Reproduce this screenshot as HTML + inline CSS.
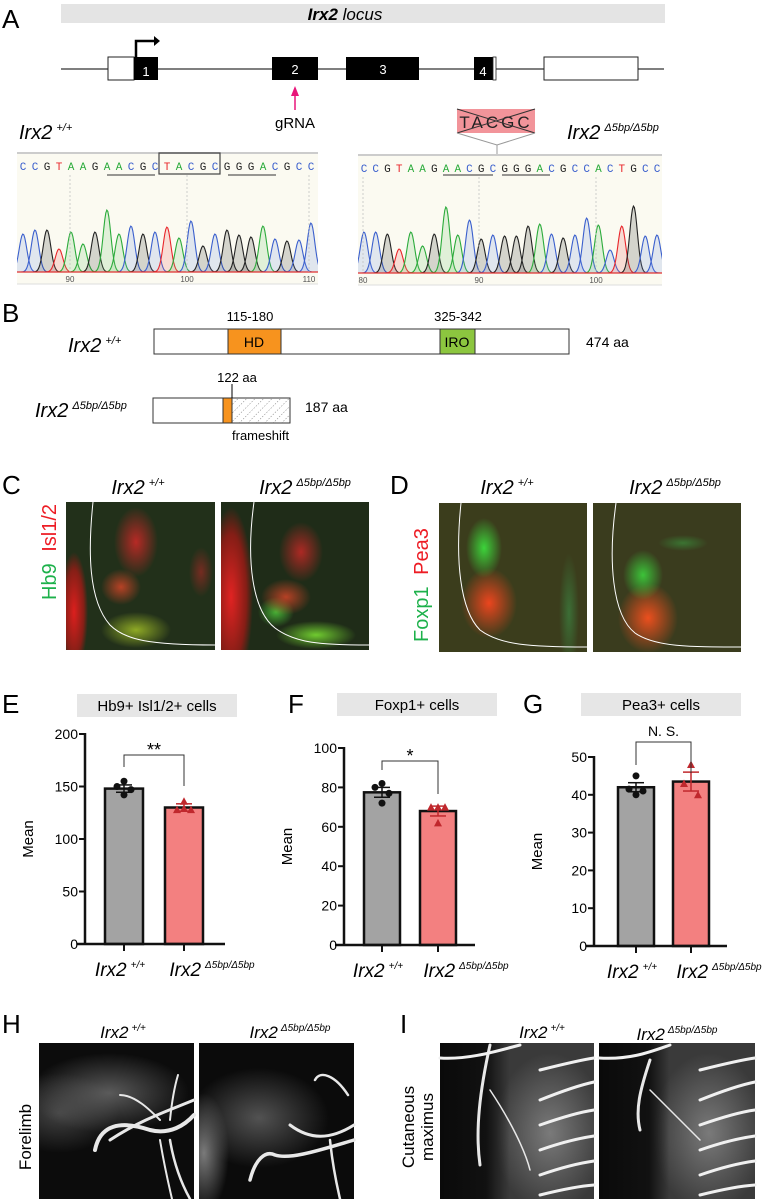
<!DOCTYPE html>
<html><head><meta charset="utf-8">
<style>
html,body{margin:0;padding:0;background:#fff;}
body{width:772px;height:1199px;position:relative;overflow:hidden;font-family:"Liberation Sans",sans-serif;}
.img{position:absolute;overflow:hidden;}
svg{position:absolute;left:0;top:0;}
</style></head>
<body>
<div class="img" style="left:66px;top:502px;width:149px;height:148px;background:
radial-gradient(ellipse 14px 60px at 8px 110px,rgba(230,30,30,.95),rgba(200,20,20,.6) 70%,transparent),
radial-gradient(ellipse 22px 35px at 70px 40px,rgba(220,40,40,.8),transparent),
radial-gradient(ellipse 20px 18px at 55px 85px,rgba(220,70,40,.8),transparent),
radial-gradient(ellipse 35px 18px at 70px 128px,rgba(170,200,40,.8),transparent),
radial-gradient(ellipse 12px 25px at 135px 70px,rgba(200,40,40,.5),transparent),
#22301a;"></div>
<div class="img" style="left:221px;top:502px;width:148px;height:148px;background:
radial-gradient(ellipse 22px 90px at 10px 95px,rgba(235,35,35,.95),rgba(200,20,20,.6) 70%,transparent),
radial-gradient(ellipse 22px 30px at 80px 50px,rgba(220,40,40,.75),transparent),
radial-gradient(ellipse 25px 18px at 65px 95px,rgba(220,70,40,.8),transparent),
radial-gradient(ellipse 40px 14px at 95px 133px,rgba(120,220,50,.9),transparent),
radial-gradient(ellipse 18px 15px at 55px 110px,rgba(80,210,60,.8),transparent),
#1f2c18;"></div>
<div class="img" style="left:439px;top:503px;width:148px;height:149px;background:
radial-gradient(ellipse 18px 30px at 45px 45px,rgba(60,220,60,.95),transparent),
radial-gradient(ellipse 28px 35px at 50px 100px,rgba(245,70,30,.95),transparent),
radial-gradient(ellipse 10px 60px at 130px 110px,rgba(60,160,80,.5),transparent),
#3b3d1c;"></div>
<div class="img" style="left:593px;top:503px;width:148px;height:149px;background:
radial-gradient(ellipse 20px 25px at 50px 72px,rgba(60,210,60,.9),transparent),
radial-gradient(ellipse 30px 35px at 55px 115px,rgba(245,80,30,.95),transparent),
radial-gradient(ellipse 25px 8px at 90px 40px,rgba(60,200,80,.4),transparent),
#3a3c1e;"></div>
<div class="img" style="left:39px;top:1043px;width:155px;height:156px;background:
radial-gradient(ellipse 80px 40px at 70px 50px,rgba(110,110,110,.8),transparent),
radial-gradient(ellipse 60px 40px at 20px 70px,rgba(90,90,90,.7),transparent),
#0c0c0c;"></div>
<div class="img" style="left:199px;top:1043px;width:155px;height:156px;background:
radial-gradient(ellipse 70px 50px at 60px 75px,rgba(100,100,100,.8),transparent),
radial-gradient(ellipse 25px 60px at 5px 110px,rgba(150,150,150,.8),transparent),
#0b0b0b;"></div>
<div class="img" style="left:440px;top:1043px;width:154px;height:156px;background:
linear-gradient(90deg,#0a0a0a 0,#111 30%,rgba(0,0,0,0) 45%),
radial-gradient(ellipse 70px 100px at 110px 90px,#7a7a7a,#3a3a3a 80%),#333;"></div>
<div class="img" style="left:599px;top:1043px;width:156px;height:156px;background:
linear-gradient(90deg,#0a0a0a 0,#111 32%,rgba(0,0,0,0) 45%),
radial-gradient(ellipse 70px 100px at 110px 90px,#7a7a7a,#3a3a3a 80%),#333;"></div>

<svg id="fig" width="772" height="1199" viewBox="0 0 772 1199" xmlns="http://www.w3.org/2000/svg" font-family="Liberation Sans, sans-serif">
<defs>
<clipPath id="clipWT"><rect x="17" y="150" width="301" height="140"/></clipPath>
<clipPath id="clipMut"><rect x="358" y="150" width="304" height="140"/></clipPath>
<pattern id="hatch" width="6" height="6" patternUnits="userSpaceOnUse" patternTransform="rotate(45)"><line x1="0" y1="0" x2="0" y2="6" stroke="#555" stroke-width="0.8" stroke-dasharray="1.5,1.5"/></pattern>
</defs>
<g font-size="26" fill="#000">
<text x="2" y="28">A</text>
<text x="2" y="322">B</text>
<text x="2" y="494">C</text>
<text x="390" y="494">D</text>
<text x="2" y="713">E</text>
<text x="288" y="713">F</text>
<text x="523" y="713">G</text>
<text x="2" y="1033">H</text>
<text x="400" y="1033">I</text>
</g>

<g>
<rect x="61" y="4" width="604" height="19" fill="#e4e4e4"/>
<text x="345" y="20" font-size="17" font-style="italic" text-anchor="middle"><tspan font-weight="bold">Irx2</tspan> locus</text>
<line x1="61" y1="69" x2="664" y2="69" stroke="#333" stroke-width="1.2"/>
<rect x="108" y="57" width="26" height="23" fill="#fff" stroke="#222"/>
<rect x="134" y="57" width="24" height="23" fill="#000"/>
<text x="146" y="76" fill="#fff" font-size="13" text-anchor="middle">1</text>
<polyline points="136,57 136,41 155,41" fill="none" stroke="#000" stroke-width="2.5"/>
<polygon points="154,36 160,41 154,46" fill="#000"/>
<rect x="272" y="57" width="46" height="23" fill="#000"/>
<text x="295" y="74" fill="#fff" font-size="13" text-anchor="middle">2</text>
<rect x="346" y="57" width="73" height="23" fill="#000"/>
<text x="383" y="74" fill="#fff" font-size="13" text-anchor="middle">3</text>
<rect x="474" y="57" width="19" height="23" fill="#000"/>
<rect x="493" y="57" width="3" height="23" fill="#fff" stroke="#222" stroke-width=".8"/>
<text x="483" y="76" fill="#fff" font-size="13" text-anchor="middle">4</text>
<rect x="544" y="57" width="94" height="23" fill="#fff" stroke="#222"/>
<line x1="295" y1="110" x2="295" y2="92" stroke="#e8157a" stroke-width="1.5"/>
<polygon points="291,96 295,86 299,96" fill="#e8157a"/>
<text x="295" y="128" font-size="15" text-anchor="middle">gRNA</text>
<text x="19" y="139" font-size="20" font-style="italic">Irx2<tspan font-size="11" dx="4" dy="-8">+/+</tspan></text>
<text x="567" y="139" font-size="20" font-style="italic">Irx2<tspan font-size="11" dx="4" dy="-8">Δ5bp/Δ5bp</tspan></text>
<rect x="457" y="109" width="78" height="24" fill="#f2949a"/>
<text x="496" y="128" font-size="17" text-anchor="middle" letter-spacing="3" fill="#222">TACGC</text>
<line x1="457" y1="109" x2="535" y2="133" stroke="#333"/><line x1="457" y1="133" x2="535" y2="109" stroke="#333"/>
<polyline points="457,133 497,145 535,133" fill="none" stroke="#999"/>
<line x1="497" y1="145" x2="497" y2="155" stroke="#999"/>
</g>
<g id="chroms"></g>

<g>
<text x="250" y="321" font-size="13" text-anchor="middle">115-180</text>
<text x="458" y="321" font-size="13" text-anchor="middle">325-342</text>
<text x="68" y="352" font-size="20" font-style="italic">Irx2<tspan font-size="11" dx="4" dy="-8">+/+</tspan></text>
<rect x="154" y="329" width="415" height="25" fill="#fff" stroke="#333"/>
<rect x="228" y="329" width="53" height="25" fill="#f7931e" stroke="#333"/>
<text x="254" y="347" font-size="14" text-anchor="middle">HD</text>
<rect x="440" y="329" width="35" height="25" fill="#8cc63f" stroke="#333"/>
<text x="457" y="347" font-size="14" text-anchor="middle">IRO</text>
<text x="586" y="347" font-size="14">474 aa</text>
<text x="35" y="417" font-size="20" font-style="italic">Irx2<tspan font-size="11" dx="4" dy="-8">Δ5bp/Δ5bp</tspan></text>
<rect x="153" y="398" width="137" height="25" fill="#fff" stroke="#333"/>
<rect x="223" y="398" width="9" height="25" fill="#f7931e" stroke="#333"/>
<rect x="232" y="398" width="58" height="25" fill="url(#hatch)" stroke="#333"/>
<line x1="232" y1="384" x2="232" y2="398" stroke="#000"/>
<text x="237" y="382" font-size="13" text-anchor="middle">122 aa</text>
<text x="305" y="412" font-size="14">187 aa</text>
<text x="232" y="440" font-size="13">frameshift</text>
</g>

<g>
<text x="138" y="494" font-size="20" font-style="italic" text-anchor="middle">Irx2<tspan font-size="11" dx="4" dy="-8">+/+</tspan></text>
<text x="305" y="494" font-size="20" font-style="italic" text-anchor="middle">Irx2<tspan font-size="11" dx="4" dy="-8">Δ5bp/Δ5bp</tspan></text>
<text x="507" y="494" font-size="20" font-style="italic" text-anchor="middle">Irx2<tspan font-size="11" dx="4" dy="-8">+/+</tspan></text>
<text x="675" y="494" font-size="20" font-style="italic" text-anchor="middle">Irx2<tspan font-size="11" dx="4" dy="-8">Δ5bp/Δ5bp</tspan></text>
<text transform="translate(56,600) rotate(-90)" font-size="20"><tspan fill="#1db14b">Hb9 </tspan><tspan fill="#ed1c24" dx="6">Isl1/2</tspan></text>
<text transform="translate(428,642) rotate(-90)" font-size="20"><tspan fill="#1db14b">Foxp1 </tspan><tspan fill="#ed1c24" dx="6">Pea3</tspan></text>
<g fill="none" stroke="#fff" stroke-width="1">
<path d="M93,502 C88,550 88,600 110,625 C125,640 150,645 215,645"/>
<path d="M254,502 C246,560 252,610 275,628 C295,643 320,645 369,645"/>
<path d="M461,503 C455,560 460,610 480,630 C500,645 530,647 587,647"/>
<path d="M616,503 C608,560 612,615 635,633 C655,647 690,647 741,647"/>
</g>
</g>

<g id="charts"></g>

<g>
<text x="123" y="1038" font-size="17" font-style="italic" text-anchor="middle">Irx2<tspan font-size="10" dx="3" dy="-7">+/+</tspan></text>
<text x="290" y="1038" font-size="17" font-style="italic" text-anchor="middle">Irx2<tspan font-size="10" dx="3" dy="-7">Δ5bp/Δ5bp</tspan></text>
<text x="542" y="1038" font-size="17" font-style="italic" text-anchor="middle">Irx2<tspan font-size="10" dx="3" dy="-7">+/+</tspan></text>
<text x="677" y="1040" font-size="17" font-style="italic" text-anchor="middle">Irx2<tspan font-size="10" dx="3" dy="-7">Δ5bp/Δ5bp</tspan></text>
<text transform="translate(31,1137) rotate(-90)" font-size="17" text-anchor="middle">Forelimb</text>
<text transform="translate(414,1127) rotate(-90)" font-size="17" text-anchor="middle">Cutaneous</text>
<text transform="translate(433,1127) rotate(-90)" font-size="17" text-anchor="middle">maximus</text>
<g fill="none" stroke="#e8e8e8" stroke-linecap="round">
<path d="M95,1150 C100,1125 120,1120 150,1130 C170,1135 185,1125 194,1115" stroke-width="4"/>
<path d="M110,1140 C140,1120 170,1110 194,1100" stroke-width="3"/>
<path d="M170,1140 C175,1170 185,1190 190,1199" stroke-width="2.5"/>
<path d="M160,1140 C165,1170 170,1190 172,1199" stroke-width="2"/>
<path d="M170,1120 C172,1100 175,1085 178,1075" stroke-width="2"/>
<path d="M120,1095 C135,1095 150,1110 160,1120" stroke-width="2"/>
<path d="M250,1180 C255,1160 265,1150 275,1155 C290,1160 320,1150 354,1140" stroke-width="3.5"/>
<path d="M290,1125 C310,1140 330,1140 354,1125" stroke-width="3"/>
<path d="M330,1140 C333,1170 338,1190 340,1199" stroke-width="2.5"/>
<path d="M315,1080 C320,1070 335,1075 348,1095" stroke-width="2.5"/>
<path d="M490,1045 C480,1090 475,1130 480,1165" stroke-width="3"/>
<path d="M490,1090 C510,1120 525,1150 530,1170" stroke-width="1.5"/>
<path d="M650,1060 C640,1090 635,1110 640,1130" stroke-width="3"/>
<path d="M650,1090 C670,1110 690,1130 700,1140" stroke-width="1.5"/>
</g>
<g fill="none" stroke="#f0f0f0" stroke-width="3" stroke-linecap="round">
<path d="M540,1070 C560,1065 580,1060 594,1058"/><path d="M540,1100 C560,1092 580,1085 594,1082"/>
<path d="M540,1125 C560,1118 580,1112 594,1110"/><path d="M540,1150 C560,1143 580,1138 594,1136"/>
<path d="M540,1175 C560,1168 580,1163 594,1161"/><path d="M540,1195 C560,1190 580,1186 594,1185"/>
<path d="M700,1070 C720,1065 740,1060 755,1058"/><path d="M700,1100 C720,1092 740,1085 755,1082"/>
<path d="M700,1125 C720,1118 740,1112 755,1110"/><path d="M700,1150 C720,1143 740,1138 755,1136"/>
<path d="M700,1175 C720,1168 740,1163 755,1161"/><path d="M700,1195 C720,1190 740,1186 755,1185"/>
<path d="M440,1058 C470,1060 500,1050 520,1045"/><path d="M599,1058 C630,1060 650,1052 670,1045"/>
</g>
</g>
</svg>

<script>
const seqWT = "CCGTAAGAACGCTACGCGGGACGCC".split("");
const peakWT = [38,42,42,23,40,28,40,62,38,46,38,40,45,34,51,26,38,42,37,35,46,33,31,32,49];
const seqMut = "CCGTAAGAACGCGGGACGCCACTGCC".split("");
const peakMut = [41,41,39,24,41,27,39,66,38,53,34,38,37,37,47,49,39,35,38,55,48,23,47,67,37,38];
const ticksWT = ["90","100","110"];
const ticksMut = ["80","90","100"];

const categories = ["Irx2 +/+", "Irx2 Δ5bp/Δ5bp"];
const eMeans = [148, 130];
const eSem = [3.5, 3.5];
const ePointsWT = [155, 150, 147, 142];
const ePointsMut = [136, 128, 128, 129];
const eTicks = [0, 50, 100, 150, 200];
const fMeans = [77.5, 68];
const fSem = [2.5, 2.5];
const fPointsWT = [82, 80, 77, 72];
const fPointsMut = [70, 70, 70, 62];
const fTicks = [0, 20, 40, 60, 80, 100];
const gMeans = [42, 43.5];
const gSem = [1.2, 2.5];
const gPointsWT = [45, 41.5, 41, 40];
const gPointsMut = [48, 43, 40];
const gTicks = [0, 10, 20, 30, 40, 50];

const NS = "http://www.w3.org/2000/svg";
function mk(tag, attrs, parent){const e=document.createElementNS(NS,tag);for(const k in attrs)e.setAttribute(k,attrs[k]);parent.appendChild(e);return e;}
const colors={A:"#2bab3b",C:"#3a5fcd",G:"#222",T:"#e8262b"};
const fills={A:"rgba(120,200,120,.2)",C:"rgba(120,150,230,.2)",G:"rgba(60,60,60,.2)",T:"rgba(240,100,100,.2)"};

function chrom(x0,x1,top,base,first,last,seq,peaks,ticks,tickX,name,clip){
  const g=mk("g",{"clip-path":"url(#"+clip+")"},document.getElementById("chroms"));
  
  
  mk("rect",{x:x0,y:top,width:x1-x0,height:base-top+12,fill:"#fbfaf1"},g);
  mk("line",{x1:x0,y1:top,x2:x1,y2:top,stroke:"#ccc","stroke-width":2},g);
  mk("line",{x1:x0,y1:base+12,x2:x1,y2:base+12,stroke:"#ddd"},g);
  const step=(last-first)/(seq.length-1);
  seq.forEach((b,i)=>{
    const cx=first+i*step, h=peaks[i], s=3.8;
    let d=`M${cx-4*s},${base}`;
    for(let t=-4*s;t<=4*s;t+=1){d+=` L${(cx+t).toFixed(1)},${(base-h*Math.exp(-t*t/(2*s*s))).toFixed(1)}`;}
    const p=mk("path",{d:d,fill:fills[b],stroke:colors[b],"stroke-width":1.1},g);
    
    
    const t=mk("text",{x:cx,y:top+17,"font-size":11,"text-anchor":"middle",fill:colors[b],"font-family":"Liberation Mono, monospace"},g);
    t.textContent=b;
  });
  mk("line",{x1:x0,y1:base,x2:x1,y2:base,stroke:"#e03030","stroke-width":1.2},g);
  ticks.forEach((tk,i)=>{
    mk("line",{x1:tickX[i],y1:top+22,x2:tickX[i],y2:base,stroke:"#bbb","stroke-dasharray":"2,2","stroke-width":.7},g);
    const t=mk("text",{x:tickX[i],y:base+10,"font-size":8,"text-anchor":"middle",fill:"#555"},g);
    t.textContent=tk;
  });
  return g;
}
const g1=chrom(17,318,153,272,23,311,seqWT,peakWT,ticksWT,[70,187,309],"chromatogram-wildtype","clipWT");
mk("rect",{x:159,y:153,width:61,height:21,fill:"none",stroke:"#444","stroke-width":1.2},g1);
mk("line",{x1:107,y1:175,x2:155,y2:175,stroke:"#333"},g1);
mk("line",{x1:228,y1:175,x2:276,y2:175,stroke:"#333"},g1);
const g2=chrom(358,662,155,273,364,657,seqMut,peakMut,ticksMut,[363,479,596],"chromatogram-mutant","clipMut");
mk("line",{x1:443,y1:175,x2:493,y2:175,stroke:"#333"},g2);
mk("line",{x1:502,y1:175,x2:550,y2:175,stroke:"#333"},g2);

function chart(cfg){
  const g=mk("g",{},document.getElementById("charts"));
  
  
  const ys=v=>cfg.y0-v/cfg.max*(cfg.y0-cfg.yTop);
  const box=mk("rect",{x:cfg.boxX,y:cfg.boxY,width:160,height:23,fill:"#e6e6e6"},g);
  
  
  const tt=mk("text",{x:cfg.boxX+80,y:cfg.boxY+17,"font-size":15,"text-anchor":"middle"},g);
  
  
  tt.textContent=cfg.title;
  const means=cfg.means, sem=cfg.sem;
  const pts=[cfg.ptsWT,cfg.ptsMut];
  const barFill=["#a3a3a3","#f38080"];
  means.forEach((m,i)=>{
    const bx=cfg.barX[i], bw=cfg.barW;
    const r=mk("rect",{x:bx,y:ys(m),width:bw,height:cfg.y0-ys(m),fill:barFill[i],stroke:"#111","stroke-width":2.5},g);
    
    
    const cx=bx+bw/2, ec=i===0?"#111":"#c0282d";
    mk("line",{x1:cx,y1:ys(m+sem[i]),x2:cx,y2:ys(m-sem[i]),stroke:ec,"stroke-width":1.5},g);
    mk("line",{x1:cx-8,y1:ys(m+sem[i]),x2:cx+8,y2:ys(m+sem[i]),stroke:ec,"stroke-width":1.5},g);
    mk("line",{x1:cx-8,y1:ys(m-sem[i]),x2:cx+8,y2:ys(m-sem[i]),stroke:ec,"stroke-width":1.5},g);
    pts[i].forEach((v,j)=>{
      const off=[0,-7,7,0,5][j]||0, px=cx+off, py=ys(v);
      let p;
      if(i===0) p=mk("circle",{cx:px,cy:py,r:3.5,fill:"#111"},g);
      else p=mk("polygon",{points:`${px-4},${py+3.5} ${px+4},${py+3.5} ${px},${py-4}`,fill:"#c0282d"},g);
      
      
    });
    mk("line",{x1:cx,y1:cfg.y0,x2:cx,y2:cfg.y0+7,stroke:"#111","stroke-width":2},g);
  });
  mk("line",{x1:cfg.ax,y1:cfg.yTop-1,x2:cfg.ax,y2:cfg.y0,stroke:"#111","stroke-width":2.5},g);
  mk("line",{x1:cfg.xl,y1:cfg.y0,x2:cfg.xr,y2:cfg.y0,stroke:"#111","stroke-width":2.5},g);
  cfg.ticks.forEach(tk=>{
    mk("line",{x1:cfg.ax-6,y1:ys(tk),x2:cfg.ax,y2:ys(tk),stroke:"#111","stroke-width":2},g);
    const t=mk("text",{x:cfg.ax-7,y:ys(tk)+5,"font-size":14,"text-anchor":"end"},g);
    
    
    t.textContent=tk;
  });
  const yl=mk("text",{transform:`translate(${cfg.ax-52},${(cfg.y0+cfg.yTop)/2}) rotate(-90)`,"font-size":15,"text-anchor":"middle"},g);
  
  
  yl.textContent="Mean";
  categories.forEach((c,i)=>{
    const parts=c.split(" ");
    const cx=cfg.barX[i]+cfg.barW/2 + (i===0?-4:28);
    const t=mk("text",{x:cx,y:cfg.y0+32,"font-size":19,"font-style":"italic","text-anchor":"middle"},g);
    
    
    const a=document.createElementNS(NS,"tspan");a.textContent=parts[0];t.appendChild(a);
    const b=document.createElementNS(NS,"tspan");b.setAttribute("font-size","10");b.setAttribute("dx","4");b.setAttribute("dy","-8");b.textContent=parts[1];t.appendChild(b);
  });
  const br=cfg.bracket;
  const c0=cfg.barX[0]+cfg.barW/2, c1=cfg.barX[1]+cfg.barW/2;
  const bp=mk("polyline",{points:`${c0},${br[1]} ${c0},${br[0]} ${c1},${br[0]} ${c1},${br[2]}`,fill:"none",stroke:"#333","stroke-width":1},g);
  
  
  const st=mk("text",{x:(c0+c1)/2,y:br[0]-(cfg.sig==="N. S."?6:-1),"font-size":cfg.sig==="N. S."?14:18,"text-anchor":"middle"},g);
  
  
  st.textContent=cfg.sig;
}
chart({name:"chart-e-hb9-isl",title:"Hb9+ Isl1/2+ cells",boxX:77,boxY:694,means:eMeans,sem:eSem,ptsWT:ePointsWT,ptsMut:ePointsMut,ticks:eTicks,max:200,y0:944,yTop:734,ax:85,xl:77,xr:225,barX:[105,165],barW:38,bracket:[755,767,786],sig:"**"});
chart({name:"chart-f-foxp1",title:"Foxp1+ cells",boxX:337,boxY:693,means:fMeans,sem:fSem,ptsWT:fPointsWT,ptsMut:fPointsMut,ticks:fTicks,max:100,y0:945,yTop:748,ax:344,xl:335,xr:475,barX:[364,420],barW:36,bracket:[761,770,794],sig:"*"});
chart({name:"chart-g-pea3",title:"Pea3+ cells",boxX:581,boxY:693,means:gMeans,sem:gSem,ptsWT:gPointsWT,ptsMut:gPointsMut,ticks:gTicks,max:50,y0:946,yTop:757,ax:594,xl:586,xr:727,barX:[618,673],barW:36,bracket:[742,765,773],sig:"N. S."});
</script>
</body></html>
